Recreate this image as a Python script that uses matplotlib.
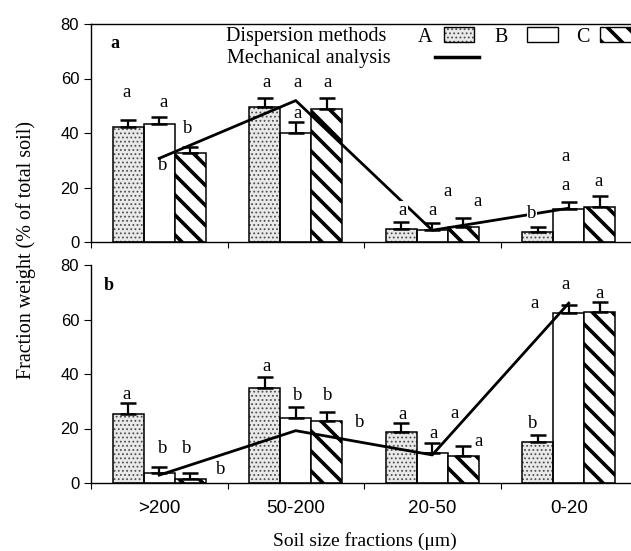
import matplotlib
matplotlib.use("Agg")
import matplotlib.pyplot as plt
import numpy as np
from matplotlib.patches import Rectangle
from matplotlib.lines import Line2D
from matplotlib.backend_bases import GraphicsContextBase

# denser diagonal hatch spacing (style only)
_orig_ghp = GraphicsContextBase.get_hatch_path
def _ghp(self, density=6.0):
    h = self.get_hatch()
    if h is not None and '\\' in h:
        return _orig_ghp(self, 10)
    return _orig_ghp(self, 6)
GraphicsContextBase.get_hatch_path = _ghp

plt.rcParams['font.family'] = ['Liberation Serif', 'DejaVu Serif']
plt.rcParams['hatch.linewidth'] = 2.6

# ---------------- data ----------------
categories = [">200", "50-200", "20-50", "0-20"]
methods = ["A", "B", "C"]

top_A = [42.3, 49.4, 4.8, 3.8]
top_B = [43.4, 40.1, 4.5, 12.0]
top_C = [32.5, 48.9, 5.6, 12.7]
top_A_err = [2.5, 3.6, 2.7, 1.6]
top_B_err = [2.4, 4.1, 2.3, 2.8]
top_C_err = [2.5, 4.1, 3.1, 4.3]
top_mech = [30.7, 51.9, 4.3, 12.4]

bot_A = [25.2, 35.0, 18.8, 15.2]
bot_B = [3.5, 24.0, 11.0, 62.5]
bot_C = [1.3, 22.8, 9.9, 62.6]
bot_A_err = [4.0, 4.0, 3.1, 2.4]
bot_B_err = [2.5, 4.0, 3.8, 2.8]
bot_C_err = [2.5, 3.4, 3.8, 3.9]
bot_mech = [2.9, 19.2, 10.3, 66.0]

top_letters = ["a", "a", "b", "b", "a", "a", "a", "a", "a", "a", "a", "a", "b", "a", "a", "a"]
top_letter_x = [-0.236, 0.035, 0.211, 0.027, 0.789, 1.016, 1.016, 1.236,
                1.786, 2.005, 2.115, 2.335, 2.731, 2.973, 2.973, 3.222]
top_letter_y = [54.7, 51.1, 41.5, 27.9, 58.5, 58.5, 47.2, 58.5,
                11.7, 11.7, 18.5, 14.8, 10.5, 20.9, 31.3, 22.1]
top_masked = [8, 12]

bot_letters = ["a", "b", "b", "b", "a", "b", "b", "b", "a", "a", "a", "a", "b", "a", "a", "a"]
bot_letter_x = [-0.236, 0.027, 0.203, 0.452, 0.789, 1.016, 1.236, 1.471,
                1.786, 2.013, 2.167, 2.342, 2.738, 2.753, 2.973, 3.229]
bot_letter_y = [32.3, 12.5, 12.5, 5.1, 42.7, 32.0, 32.0, 22.1,
                25.2, 18.2, 25.6, 15.2, 21.9, 66.0, 72.7, 69.6]
bot_masked = []

yticks = [0, 20, 40, 60, 80]

# ---------------- figure ----------------
W, H = 631, 551
fig = plt.figure(figsize=(W / 100, H / 100), dpi=100)

def fx(px):
    return px / W

def fy(py):
    return 1 - py / H

ax_top = fig.add_axes([fx(91), fy(242), fx(637) - fx(91), fy(24) - fy(242)])
ax_bot = fig.add_axes([fx(91), fy(483), fx(637) - fx(91), fy(265) - fy(483)])

xpos = np.arange(len(categories))
bw = 0.228
offs = [-bw, 0.0, bw]

def stipple(patches):
    for p in patches:
        if hasattr(p, 'set_hatch_linewidth'):
            p.set_hatch_linewidth(0.8)

def draw_panel(ax, A, B, C, Ae, Be, Ce, mech, letters, lx, ly, masked):
    # A: stippled
    bars = ax.bar(xpos + offs[0], A, bw, facecolor='#e9e9e9', edgecolor='#505050',
                  hatch='....', linewidth=0, zorder=2)
    stipple(bars)
    ax.bar(xpos + offs[0], A, bw, fill=False, edgecolor='black', linewidth=1.1, zorder=3)
    # B: open
    ax.bar(xpos + offs[1], B, bw, facecolor='white', edgecolor='black', linewidth=1.1, zorder=2)
    # C: hatched
    ax.bar(xpos + offs[2], C, bw, facecolor='white', edgecolor='black', hatch='\\',
           linewidth=1.1, zorder=2)
    for vals, errs, o in ((A, Ae, offs[0]), (B, Be, offs[1]), (C, Ce, offs[2])):
        ax.errorbar(xpos + o, vals, yerr=[np.zeros(len(vals)), errs], fmt='none',
                    ecolor='black', elinewidth=1.6, capsize=5.5, capthick=1.8, zorder=4)
    ax.plot(xpos, mech, color='black', linewidth=2.0, zorder=5)
    for i, (t, x, y) in enumerate(zip(letters, lx, ly)):
        kw = {}
        if i in masked:
            kw['bbox'] = dict(facecolor='white', edgecolor='none', pad=0.5)
        ax.text(x, y, t, ha='center', va='center', fontsize=13.5, zorder=6, **kw)
    ax.set_xlim(-0.5, 3.5)
    ax.set_ylim(0, 80)
    ax.set_yticks(yticks)
    ax.set_xticks(np.arange(-0.5, 4.0, 1.0))
    ax.tick_params(axis='x', which='major', direction='out', length=4, labelbottom=False)
    ax.tick_params(axis='y', direction='out', length=5, labelsize=12)
    for lab in ax.get_yticklabels():
        lab.set_family(['Liberation Sans', 'DejaVu Sans'])
    ax.spines['right'].set_visible(False)
    for s in ax.spines.values():
        s.set_linewidth(1.0)

draw_panel(ax_top, top_A, top_B, top_C, top_A_err, top_B_err, top_C_err, top_mech,
           top_letters, top_letter_x, top_letter_y, top_masked)
draw_panel(ax_bot, bot_A, bot_B, bot_C, bot_A_err, bot_B_err, bot_C_err, bot_mech,
           bot_letters, bot_letter_x, bot_letter_y, bot_masked)
ax_bot.spines['top'].set_visible(False)

# category labels on bottom panel
ax_bot.set_xticks(xpos, minor=True)
ax_bot.set_xticklabels(categories, minor=True)
ax_bot.tick_params(axis='x', which='minor', length=0, labelsize=13.5, pad=12)
for lab in ax_bot.get_xticklabels(minor=True):
    lab.set_family(['Liberation Sans', 'DejaVu Sans'])

# panel labels
ax_top.text(fx(115 - 91) / (fx(637) - fx(91)), (242 - 43) / 218, 'a', transform=ax_top.transAxes,
            fontsize=13, fontweight='bold', ha='center', va='center')
ax_bot.text(fx(109 - 91) / (fx(637) - fx(91)), (483 - 286) / 218, 'b', transform=ax_bot.transAxes,
            fontsize=13, fontweight='bold', ha='center', va='center')

# axis labels
fig.text(fx(26), fy(250), 'Fraction weight (% of total soil)', rotation=90,
         ha='center', va='center', fontsize=14.5)
fig.text(fx(365), fy(541), 'Soil size fractions (\u03bcm)', ha='center', va='center', fontsize=14)

# legend (drawn manually)
fig.text(fx(226), fy(37), 'Dispersion methods', ha='left', va='center', fontsize=14.5)
fig.text(fx(227), fy(59), 'Mechanical analysis', ha='left', va='center', fontsize=14.5)
fig.text(fx(425), fy(37), methods[0], ha='center', va='center', fontsize=14.5)
fig.text(fx(501), fy(37), methods[1], ha='center', va='center', fontsize=14.5)
fig.text(fx(583), fy(37), methods[2], ha='center', va='center', fontsize=14.5)
leg_a = Rectangle((fx(444), fy(42)), fx(30), fy(27) - fy(42), transform=fig.transFigure,
                  facecolor='#e9e9e9', edgecolor='#505050', hatch='....', linewidth=0)
stipple([leg_a])
fig.patches.append(leg_a)
fig.patches.append(Rectangle((fx(444), fy(42)), fx(30), fy(27) - fy(42), transform=fig.transFigure,
                             fill=False, edgecolor='black', linewidth=1.0))
fig.patches.append(Rectangle((fx(527), fy(42)), fx(31), fy(27) - fy(42), transform=fig.transFigure,
                             facecolor='white', edgecolor='black', linewidth=1.0))
fig.patches.append(Rectangle((fx(600), fy(42)), fx(40), fy(27) - fy(42), transform=fig.transFigure,
                             facecolor='white', edgecolor='black', hatch='\\', linewidth=1.0))
fig.lines.append(Line2D([fx(435), fx(479)], [fy(57), fy(57)], transform=fig.transFigure,
                        color='black', linewidth=2.5))

fig.savefig('out.png', dpi=100)
